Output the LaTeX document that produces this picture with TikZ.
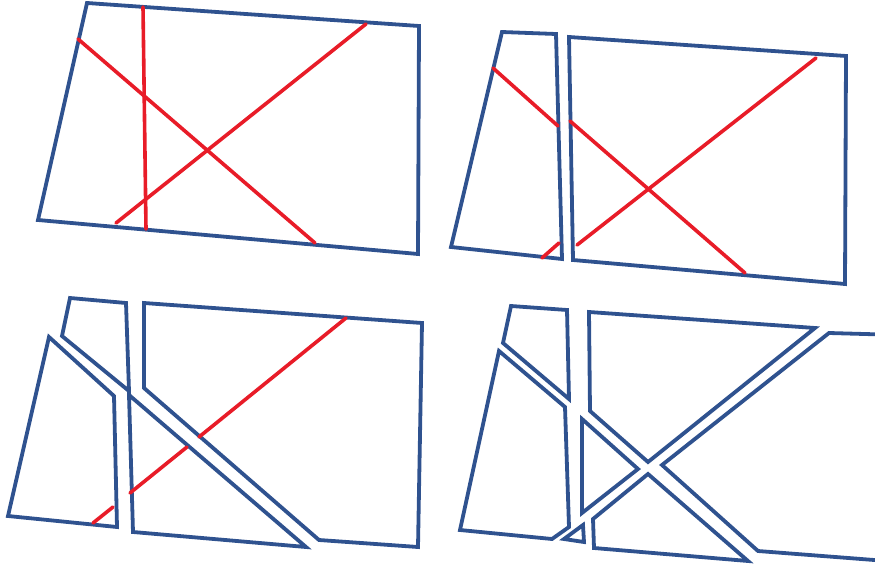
\documentclass[tikz,border=0pt]{standalone}
\definecolor{myblue}{RGB}{47,82,143}
\definecolor{myred}{RGB}{232,28,40}
\begin{document}
\begin{tikzpicture}[x=1pt,y=-1pt,
  piece/.style={draw=myblue, line width=3.8pt, line join=miter},
  cut/.style={draw=myred, line width=3.6pt, line cap=round}]
\useasboundingbox (0,0) rectangle (875,567);
\clip (0,0) rectangle (875,567);
% ---- panel 1 ----
\draw[piece] (87,3) -- (419,26) -- (418,254) -- (38,220) -- cycle;
\draw[cut] (143,7) -- (146,229);
\draw[cut] (78,39) -- (315,243);
\draw[cut] (116,223) -- (366,24);
% ---- panel 2 ----
\draw[piece] (502,32) -- (556,34) -- (562,259) -- (451,247) -- cycle;
\draw[piece] (569,37) -- (846,56) -- (845,284) -- (573,260) -- cycle;
\draw[cut] (493,68) -- (558,126);
\draw[cut] (570,121) -- (745,273);
\draw[cut] (577,245) -- (816,58);
\draw[cut] (542,258) -- (559,243);
% ---- panel 3 ----
\draw[piece] (70,298) -- (126,303) -- (129,391) -- (62,336) -- cycle;
\draw[piece] (49,337) -- (114,396) -- (117,527) -- (8,516) -- cycle;
\draw[piece] (129,395) -- (306,547) -- (133,532) -- cycle;
\draw[piece] (144,303) -- (422,323) -- (418,547) -- (319,540) -- (144,388) -- cycle;
\draw[cut] (93,523) -- (113,507);
\draw[cut] (130,493) -- (187,447);
\draw[cut] (199,437) -- (346,318);
% ---- panel 4 ----
\draw[piece] (511,306) -- (567,310) -- (569,399) -- (503,343) -- cycle;
\draw[piece] (499,351) -- (565,407) -- (569,527) -- (552,539) -- (460,530) -- cycle;
\draw[piece] (564,539) -- (583,525) -- (584,542) -- cycle;
\draw[piece] (582,419) -- (638,469) -- (582,513) -- cycle;
\draw[piece] (589,312) -- (815,328) -- (648,462) -- (590,411) -- cycle;
\draw[piece] (900,335) -- (829,333) -- (662,465) -- (758,551) -- (900,562);
\draw[piece] (593,519) -- (648,474) -- (748,561) -- (594,548) -- cycle;
\end{tikzpicture}
\end{document}
